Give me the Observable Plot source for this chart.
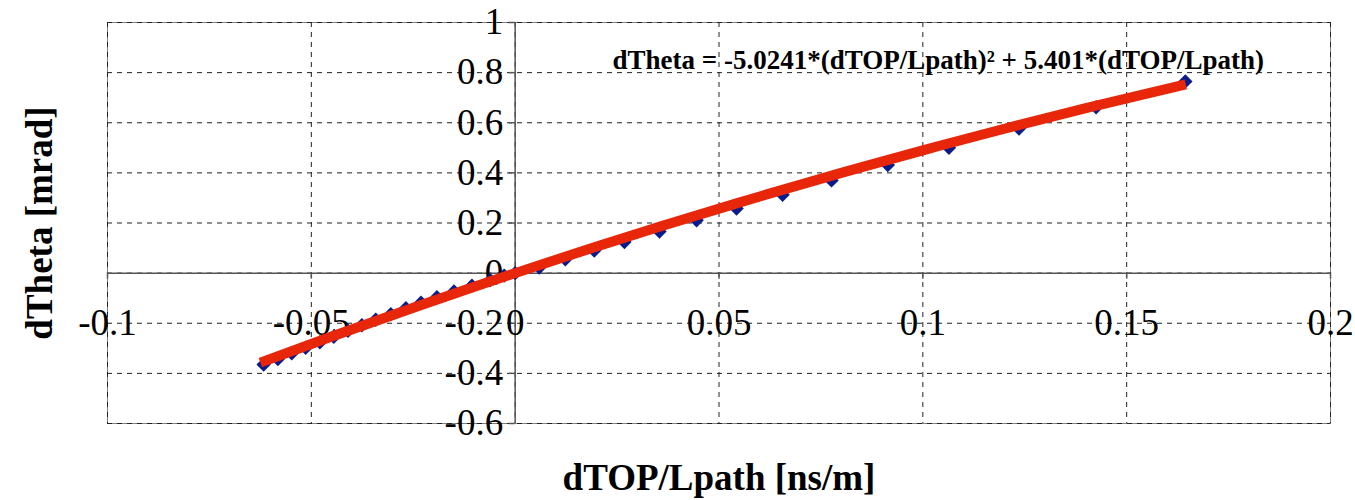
<!DOCTYPE html>
<html><head><meta charset="utf-8">
<script src="https://cdn.jsdelivr.net/npm/d3@7"></script>
<script src="https://cdn.jsdelivr.net/npm/@observablehq/plot@0.6"></script>
<style>body{margin:0;background:#fff} svg{display:block;background:#fff}</style>
</head><body><div id="chart"></div>
<script>
// measured points
const dTop = [-0.0617,-0.0582,-0.0548,-0.0514,-0.0479,-0.0445,-0.0410,-0.0376,-0.0342,-0.0305,-0.0268,-0.0231,-0.0192,-0.0150,-0.0106,-0.0061,-0.0027,0.0,0.0059,0.0123,0.0194,0.0268,0.0354,0.0445,0.0543,0.0656,0.0776,0.0914,0.1064,0.1236,0.1425,0.1644];
const dTheta = [-0.365,-0.343,-0.320,-0.298,-0.276,-0.254,-0.230,-0.208,-0.186,-0.164,-0.140,-0.118,-0.096,-0.073,-0.050,-0.028,-0.010,0.0,0.022,0.055,0.090,0.124,0.166,0.211,0.258,0.313,0.370,0.431,0.500,0.577,0.662,0.765];
// fitted trend line
const fitX = [-0.0625,-0.045,-0.03,-0.015,0,0.02,0.04,0.06,0.08,0.1,0.12,0.14,0.1645];
const fitY = [-0.357,-0.253,-0.167,-0.082,0,0.106,0.208,0.306,0.400,0.490,0.576,0.658,0.753];
// axes
const xTicks = [-0.1,-0.05,0,0.05,0.1,0.15,0.2];
const xTickLabels = ["-0.1","-0.05","0","0.05","0.1","0.15","0.2"];
const yTicks = [-0.6,-0.4,-0.2,0,0.2,0.4,0.6,0.8,1];
const yTickLabels = ["-0.6","-0.4","-0.2","0","0.2","0.4","0.6","0.8","1"];
const xTitle = "dTOP/Lpath [ns/m]";
const yTitle = "dTheta [mrad]";
const equation = "dTheta = -5.0241*(dTOP/Lpath)\u00B2 + 5.401*(dTOP/Lpath)";

const points = dTop.map((x,i)=>({x, y: dTheta[i]}));
const fit = fitX.map((x,i)=>({x, y: fitY[i]}));
const xt = xTicks.map((v,i)=>({v, l: xTickLabels[i]}));
const yt = yTicks.map((v,i)=>({v, l: yTickLabels[i]}));
const serif = "'Liberation Serif', 'Times New Roman', serif";

const chart = Plot.plot({
  width: 1355, height: 500,
  marginLeft: 107, marginRight: 25, marginTop: 22, marginBottom: 77,
  style: {background: "#fff", fontFamily: serif},
  x: {domain: [-0.1, 0.2], axis: null},
  y: {domain: [-0.6, 1], axis: null},
  marks: [
    Plot.frame({stroke: "#808080", strokeWidth: 1}),
    Plot.ruleX(xTicks, {stroke: "#222", strokeWidth: 1, strokeDasharray: "5,5"}),
    Plot.ruleY(yTicks, {stroke: "#222", strokeWidth: 1, strokeDasharray: "5,5"}),
    Plot.ruleX([0], {stroke: "#555", strokeWidth: 1.5}),
    Plot.ruleY([0], {stroke: "#555", strokeWidth: 1.5}),
    Plot.ruleX(xTicks, {y1: () => 0, y2: () => 0, insetBottom: -6, stroke: "#555", strokeWidth: 1.5}),
    Plot.ruleY(yTicks, {x1: () => 0, x2: () => 0, insetLeft: -6, stroke: "#555", strokeWidth: 1.5}),
    Plot.text(xt, {x: "v", y: () => 0, text: "l", dy: 50, fontSize: 37, fontFamily: serif, fill: "#000", lineAnchor: "middle"}),
    Plot.text(yt, {x: () => 0, y: "v", text: "l", dx: -12, textAnchor: "end", fontSize: 37, fontFamily: serif, fill: "#000", lineAnchor: "middle"}),
    Plot.dot(points, {x: "x", y: "y", symbol: "diamond2", r: 6.5, fill: "#0a1c8c", stroke: "none"}),
    Plot.line(fit, {x: "x", y: "y", curve: "natural", stroke: "#e8260a", strokeWidth: 10, strokeLinecap: "butt"}),
    Plot.text([equation], {frameAnchor: "top-left", dx: 505, dy: 38, text: d => d, textAnchor: "start", lineAnchor: "middle", fontSize: 27, fontWeight: "bold", fontFamily: serif, fill: "#000"}),
    Plot.text([xTitle], {frameAnchor: "bottom", dy: 55, text: d => d, textAnchor: "middle", lineAnchor: "middle", fontSize: 37, fontWeight: "bold", fontFamily: serif, fill: "#000"}),
    Plot.text([yTitle], {frameAnchor: "left", dx: -67, rotate: -90, text: d => d, textAnchor: "middle", lineAnchor: "middle", fontSize: 37, fontWeight: "bold", fontFamily: serif, fill: "#000"})
  ]
});
document.getElementById("chart").appendChild(chart);
</script>
</body></html>
